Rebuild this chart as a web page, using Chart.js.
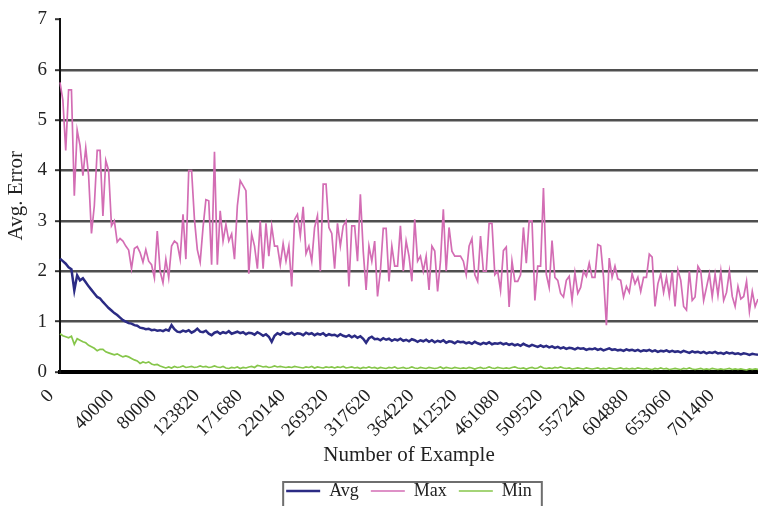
<!DOCTYPE html>
<html>
<head>
<meta charset="utf-8">
<script src="https://cdn.jsdelivr.net/npm/chart.js@4.4.1/dist/chart.umd.min.js"></script>
<style>
  html, body { margin: 0; padding: 0; background: #fff; }
  #wrap { width: 758px; height: 506px; }
</style>
</head>
<body>
<div id="wrap"><canvas id="chart" width="758" height="506"></canvas></div>
<script>
// tick labels shown on the x axis (example numbers)
const tickLabels = ['0', '40000', '80000', '123820', '171680', '220140', '269320', '317620',
  '364220', '412520', '461080', '509520', '557240', '604880', '653060', '701400'];
// how many samples were logged from each labelled example up to the next one
const samplesPerTick = [21, 15, 15, 15, 15, 15, 15, 15, 15, 15, 15, 15, 15, 15, 15, 14];
const endExample = 746480;

// one line per labelled interval
const avgError = [
  2.25, 2.2, 2.15, 2.08, 2.04, 1.62, 1.92, 1.82, 1.86, 1.78, 1.7, 1.63, 1.56, 1.49, 1.46, 1.39, 1.33, 1.27, 1.22, 1.17, 1.13,
  1.08, 1.03, 1.0, 0.97, 0.96, 0.93, 0.92, 0.88, 0.87, 0.85, 0.86, 0.83, 0.84, 0.82, 0.83,
  0.81, 0.84, 0.82, 0.93, 0.85, 0.8, 0.79, 0.82, 0.8, 0.83, 0.78, 0.81, 0.86, 0.8, 0.79,
  0.82, 0.76, 0.73, 0.78, 0.8, 0.76, 0.79, 0.77, 0.81, 0.76, 0.78, 0.8, 0.77, 0.79, 0.75,
  0.78, 0.77, 0.74, 0.79, 0.76, 0.72, 0.75, 0.7, 0.6, 0.72, 0.77, 0.74, 0.79, 0.76, 0.75,
  0.78, 0.74, 0.77, 0.76, 0.73, 0.78, 0.75, 0.77, 0.73, 0.76, 0.74, 0.77, 0.72, 0.75, 0.73,
  0.74, 0.71, 0.75, 0.72, 0.7, 0.73, 0.69, 0.72, 0.68, 0.71, 0.66, 0.58, 0.67, 0.7, 0.65,
  0.66, 0.63, 0.67, 0.64, 0.66, 0.62, 0.65, 0.63, 0.66, 0.62, 0.64, 0.61, 0.65, 0.63, 0.6,
  0.63, 0.61, 0.64, 0.6, 0.63, 0.59, 0.62, 0.6, 0.63, 0.58, 0.61, 0.6, 0.57, 0.61, 0.59,
  0.6, 0.57, 0.59, 0.56, 0.6, 0.57, 0.55, 0.58, 0.56, 0.59, 0.55, 0.57, 0.56, 0.58, 0.55,
  0.57, 0.54, 0.56, 0.53, 0.55, 0.52, 0.56, 0.53, 0.51, 0.54, 0.52, 0.5, 0.53, 0.5, 0.52,
  0.49, 0.51, 0.48, 0.5, 0.47, 0.49, 0.46, 0.48, 0.47, 0.45, 0.48, 0.46, 0.47, 0.44, 0.46,
  0.45, 0.47, 0.44, 0.46, 0.43, 0.45, 0.47, 0.44, 0.45, 0.43, 0.44, 0.42, 0.45, 0.43, 0.44,
  0.42, 0.44, 0.41, 0.43, 0.42, 0.44, 0.41, 0.43, 0.4, 0.42, 0.41, 0.43, 0.4, 0.42, 0.4,
  0.41, 0.39, 0.42, 0.4, 0.38, 0.41, 0.39, 0.4, 0.38, 0.4, 0.37, 0.39, 0.38, 0.4, 0.37,
  0.38, 0.36, 0.39, 0.37, 0.38, 0.36, 0.37, 0.35, 0.37, 0.36, 0.34, 0.36, 0.35, 0.34
];

const maxError = [
  5.75, 5.4, 4.4, 5.6, 5.6, 3.5, 4.8, 4.5, 3.9, 4.45, 3.9, 2.75, 3.3, 4.4, 4.4, 3.1, 4.2, 4.0, 2.9, 3.0, 2.58,
  2.65, 2.6, 2.5, 2.42, 2.05, 2.45, 2.49, 2.37, 2.18, 2.43, 2.2, 2.13, 1.87, 2.8, 2.0,
  1.77, 2.24, 1.87, 2.5, 2.6, 2.55, 2.24, 3.13, 2.24, 4.0, 4.0, 3.03, 2.43, 2.18, 2.87,
  3.42, 3.4, 2.13, 4.37, 2.13, 3.2, 2.6, 2.93, 2.6, 2.74, 2.24, 3.3, 3.8, 3.7, 3.6,
  1.95, 2.74, 2.5, 2.05, 3.0, 2.05, 2.95, 2.3, 2.9, 2.5, 2.5, 2.13, 2.55, 2.2, 2.5,
  1.7, 3.03, 3.13, 2.7, 3.28, 2.35, 2.5, 2.2, 2.87, 3.1, 2.0, 3.73, 3.73, 2.87, 2.75,
  2.05, 2.95, 2.5, 2.9, 3.0, 1.7, 2.9, 2.9, 2.2, 3.53, 2.4, 1.63, 2.5, 2.2, 2.6,
  1.5, 2.0, 2.85, 2.85, 1.8, 2.5, 2.1, 2.1, 2.9, 2.0, 2.6, 2.3, 1.8, 3.03, 2.2,
  2.3, 2.0, 2.3, 1.63, 2.5, 2.4, 1.6, 2.2, 3.23, 2.0, 2.87, 2.4, 2.3, 2.3, 2.3,
  2.2, 1.93, 2.5, 2.65, 1.93, 1.8, 2.7, 2.0, 2.0, 2.95, 2.95, 1.93, 2.0, 1.62, 2.41,
  2.48, 1.29, 2.2, 1.8, 1.8, 1.93, 2.87, 2.16, 3.0, 3.0, 1.42, 2.1, 2.1, 3.65, 1.94,
  1.68, 2.61, 1.88, 1.82, 1.56, 1.49, 1.82, 1.9, 1.42, 1.97, 1.56, 1.68, 2.0, 1.9, 2.16,
  1.88, 1.88, 2.53, 2.5, 1.88, 0.93, 2.26, 1.88, 2.1, 1.85, 1.82, 1.49, 1.7, 1.58, 1.95,
  1.75, 1.88, 1.6, 1.88, 1.88, 2.34, 2.28, 1.3, 1.75, 1.95, 1.58, 1.88, 1.52, 2.0, 1.3,
  2.03, 1.82, 1.3, 1.23, 2.0, 1.42, 1.49, 2.1, 2.0, 1.42, 1.68, 1.95, 1.49, 1.94, 1.52,
  2.0, 1.42, 1.58, 2.0, 1.5, 1.3, 1.7, 1.45, 1.5, 1.8, 1.2, 1.6, 1.3, 1.45
];

const minError = [
  0.76, 0.72, 0.7, 0.68, 0.71, 0.55, 0.66, 0.63, 0.6, 0.58, 0.53, 0.5, 0.47, 0.42, 0.45, 0.45, 0.4, 0.38, 0.36, 0.34, 0.36,
  0.33, 0.3, 0.32, 0.3, 0.27, 0.24, 0.22, 0.17, 0.2, 0.18, 0.2, 0.16, 0.14, 0.15, 0.12,
  0.1, 0.08, 0.1, 0.08, 0.11, 0.09, 0.1, 0.12, 0.09, 0.1, 0.11, 0.09, 0.1, 0.12, 0.1,
  0.11, 0.09, 0.1, 0.12, 0.1, 0.09, 0.11, 0.08, 0.07, 0.09, 0.08, 0.1, 0.07, 0.09, 0.08,
  0.1, 0.11, 0.09, 0.13, 0.12, 0.1, 0.11, 0.09, 0.1, 0.12, 0.1, 0.11, 0.1, 0.09, 0.1,
  0.09, 0.11, 0.1, 0.09, 0.08, 0.1, 0.09, 0.11, 0.08, 0.1, 0.09, 0.08, 0.1, 0.09, 0.1,
  0.08, 0.1, 0.09, 0.11, 0.08, 0.09, 0.1, 0.08, 0.09, 0.07, 0.09, 0.08, 0.1, 0.08, 0.09,
  0.07, 0.09, 0.08, 0.07, 0.09, 0.08, 0.1, 0.07, 0.08, 0.09, 0.07, 0.08, 0.1, 0.08, 0.07,
  0.09, 0.08, 0.07, 0.09, 0.08, 0.07, 0.08, 0.1, 0.07, 0.09, 0.08, 0.07, 0.09, 0.08, 0.07,
  0.08, 0.07, 0.09, 0.08, 0.06, 0.08, 0.09, 0.07, 0.08, 0.1, 0.08, 0.07, 0.09, 0.08, 0.07,
  0.08, 0.07, 0.09, 0.1, 0.08, 0.07, 0.08, 0.06, 0.08, 0.09, 0.07, 0.08, 0.11, 0.08, 0.07,
  0.08, 0.07, 0.09, 0.08, 0.1, 0.08, 0.07, 0.08, 0.06, 0.07, 0.08, 0.07, 0.06, 0.08, 0.07,
  0.06, 0.07, 0.08, 0.06, 0.07, 0.06, 0.08, 0.07, 0.06, 0.07, 0.08, 0.06, 0.07, 0.06, 0.07,
  0.06, 0.08, 0.07, 0.06, 0.07, 0.06, 0.05, 0.07, 0.06, 0.08, 0.06, 0.07, 0.05, 0.06, 0.07,
  0.06, 0.05, 0.07, 0.06, 0.08, 0.06, 0.05, 0.06, 0.07, 0.05, 0.06, 0.05, 0.07, 0.06, 0.05,
  0.06, 0.05, 0.06, 0.07, 0.05, 0.06, 0.05, 0.06, 0.05, 0.04, 0.06, 0.05, 0.06, 0.05
];

// example number of every logged sample
const categories = [];
tickLabels.forEach((t, j) => {
  const from = Number(t);
  const to = j + 1 < tickLabels.length ? Number(tickLabels[j + 1]) : endExample;
  const n = samplesPerTick[j];
  for (let s = 0; s < n; s++) categories.push(String(Math.round(from + s * (to - from) / n)));
});
const shownTicks = new Set(tickLabels);

const serif = '"Liberation Serif", "Times New Roman", serif';
Chart.defaults.font.family = serif;
Chart.defaults.color = '#222';

// thin frame around the legend, like the original
const legendFrame = {
  id: 'legendFrame',
  afterDraw(chart) {
    const boxes = chart.legend.legendHitBoxes;
    if (!boxes || !boxes.length) return;
    const ctx = chart.ctx;
    const first = boxes[0], last = boxes[boxes.length - 1];
    const x0 = first.left - 3;
    const x1 = last.left + last.width + 10;
    const y0 = first.top + first.height / 2 - 9;
    ctx.save();
    ctx.strokeStyle = '#6e6e6e';
    ctx.lineWidth = 2;
    ctx.strokeRect(x0, y0, x1 - x0, chart.height - y0 + 4);
    ctx.restore();
  }
};

new Chart(document.getElementById('chart'), {
  type: 'line',
  data: {
    labels: categories,
    datasets: [
      { label: 'Avg', data: avgError, borderColor: '#2b2b84', borderWidth: 2.5 },
      { label: 'Max', data: maxError, borderColor: '#d36db4', borderWidth: 1.7 },
      { label: 'Min', data: minError, borderColor: '#86c64a', borderWidth: 1.7 }
    ]
  },
  options: {
    responsive: false,
    animation: false,
    devicePixelRatio: 1,
    elements: { point: { radius: 0 }, line: { tension: 0 } },
    layout: { padding: { top: 18, right: 0, bottom: -4, left: 0 } },
    plugins: {
      tooltip: { enabled: false },
      legend: {
        position: 'bottom',
        fullSize: false,
        labels: {
          usePointStyle: true,
          pointStyle: 'line',
          pointStyleWidth: 34,
          padding: 12,
          font: { size: 18, family: serif },
          color: '#222'
        }
      }
    },
    scales: {
      x: {
        grid: { display: false, drawTicks: false },
        border: { display: true, color: '#000', width: 4 },
        ticks: {
          autoSkip: false,
          minRotation: 45,
          maxRotation: 45,
          padding: 13,
          labelOffset: -9,
          font: { size: 19 },
          callback: function (value) {
            const lab = this.getLabelForValue(value);
            return shownTicks.has(lab) ? lab : null;
          }
        },
        title: { display: true, text: 'Number of Example', font: { size: 21 }, padding: { top: 2, bottom: 2 } },
        afterFit: (scale) => {
          scale.height = 98;
          scale.paddingLeft = 0;
          scale.paddingRight = 0;
        }
      },
      y: {
        min: 0,
        max: 7,
        ticks: { stepSize: 1, padding: 8, font: { size: 19 } },
        grid: {
          color: (c) => (c.tick.value === 0 || c.tick.value === 7) ? 'rgba(0,0,0,0)' : '#4f4f4f',
          lineWidth: 2.4,
          tickColor: '#333',
          tickWidth: 2,
          tickLength: 5
        },
        border: { display: true, color: '#111', width: 2 },
        title: { display: true, text: 'Avg. Error', font: { size: 21 }, padding: { top: 4, bottom: 0 } },
        afterFit: (scale) => { scale.width = 60; }
      }
    }
  },
  plugins: [legendFrame]
});
</script>
</body>
</html>
